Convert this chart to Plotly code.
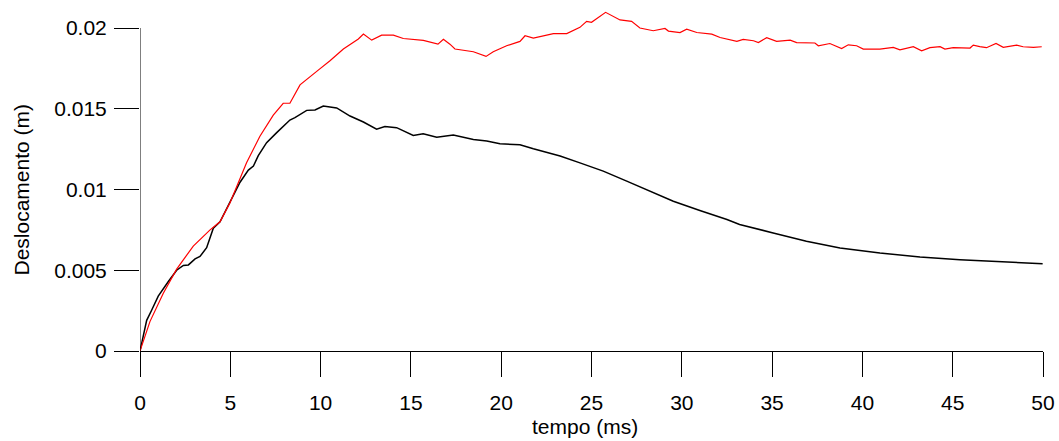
import plotly.graph_objects as go

# Black series (tempo ms, deslocamento m)
t_black = [0, 0.37, 0.65, 1.01, 1.57, 2.03, 2.4, 2.68, 3.05, 3.32, 3.69, 4.06, 4.43, 4.89,
           5.54, 6.0, 6.28, 6.55, 7.01, 7.57, 8.3, 8.58, 9.23, 9.69, 10.15, 10.89, 11.63,
           12.37, 13.1, 13.56, 14.21, 15.13, 15.68, 16.43, 17.16, 17.35, 18.46, 19.2, 19.93,
           21.04, 21.78, 23.26, 24.36, 25.65, 26.95, 28.05, 29.53, 31.0, 32.5, 33.2, 34.3,
           35.06, 36.9, 38.76, 40.97, 43.19, 45.4, 47.6, 49.98]
d_black = [0, 0.0019, 0.00254, 0.0034, 0.0043, 0.0050, 0.0053, 0.00533, 0.0057, 0.00585, 0.0064,
           0.0076, 0.0080, 0.0090, 0.01045, 0.0112, 0.01145, 0.0121, 0.0129, 0.01352, 0.0143,
           0.01445, 0.0149, 0.01492, 0.01517, 0.01505, 0.01455, 0.01418, 0.01373, 0.0139,
           0.01383, 0.01335, 0.01345, 0.01323, 0.01337, 0.01337, 0.0131, 0.0130, 0.01283,
           0.01277, 0.01252, 0.01207, 0.01165, 0.01114, 0.01052, 0.0100, 0.00927, 0.0087,
           0.00814, 0.00783, 0.0075, 0.00731, 0.00679, 0.00638, 0.00607, 0.00582, 0.00565,
           0.00555, 0.0054]

# Red series
t_red = [0, 0.55, 1.29, 2.03, 2.95, 3.88, 4.43, 4.98, 5.9, 6.64, 7.38, 7.93, 8.3, 8.86, 9.87,
         10.52, 11.26, 12.09, 12.37, 12.83, 13.38, 14.03, 14.58, 15.69, 16.5, 16.8, 17.16,
         17.44, 18.46, 19.16, 19.56, 20.3, 21.04, 21.32, 21.78, 22.89, 23.63, 24.36, 24.73,
         25.0, 25.78, 26.58, 27.22, 27.68, 28.42, 29.07, 29.26, 29.9, 30.27, 30.83, 31.66,
         32.12, 33.05, 33.4, 33.97, 34.24, 34.7, 35.25, 36.0, 36.36, 37.37, 37.56, 38.2,
         38.85, 39.22, 39.68, 40.05, 40.97, 41.71, 42.08, 42.82, 43.28, 43.74, 44.3, 44.57,
         45.03, 45.96, 46.14, 46.5, 46.87, 47.4, 47.8, 48.54, 48.9, 49.47, 49.93]
d_red = [0, 0.00182, 0.00358, 0.00507, 0.0065, 0.0075, 0.0080, 0.00917, 0.01165, 0.0133,
         0.0146, 0.01534, 0.01534, 0.01648, 0.01739, 0.01797, 0.0187, 0.01932, 0.01963,
         0.01925, 0.01956, 0.01956, 0.01935, 0.01923, 0.019, 0.0193, 0.019, 0.0187, 0.01853,
         0.01824, 0.01853, 0.0189, 0.01917, 0.01952, 0.01938, 0.01965, 0.01965, 0.02004,
         0.02041, 0.02035, 0.02097, 0.0205, 0.02041, 0.02, 0.01983, 0.01997, 0.01981,
         0.01972, 0.01993, 0.01972, 0.01962, 0.01941, 0.01917, 0.0193, 0.01921, 0.0191,
         0.0194, 0.01917, 0.01925, 0.0191, 0.01907, 0.0189, 0.01904, 0.01873, 0.01896,
         0.0189, 0.01869, 0.01869, 0.0188, 0.01865, 0.01884, 0.01859, 0.01878, 0.01884,
         0.01869, 0.01878, 0.01876, 0.01894, 0.01885, 0.01878, 0.01904, 0.0188, 0.01894,
         0.01884, 0.0188, 0.01884]

x_ticks = [0, 5, 10, 15, 20, 25, 30, 35, 40, 45, 50]
y_ticks = [0, 0.005, 0.01, 0.015, 0.02]
y_tick_text = ["0", "0.005", "0.01", "0.015", "0.02"]
x_title = "tempo (ms)"
y_title = "Deslocamento (m)"

W, H = 1059, 441
mt, mb, ml, mr = 5, 90, 140, 16
plot_h = H - mt - mb
y_top = 0.02 * plot_h / 323.0

font = dict(family="Liberation Sans, Arial, sans-serif", size=21, color="black")

fig = go.Figure()
fig.add_trace(go.Scatter(x=t_black, y=d_black, mode="lines",
                         line=dict(color="black", width=1.5), showlegend=False))
fig.add_trace(go.Scatter(x=t_red, y=d_red, mode="lines",
                         line=dict(color="#ff0000", width=1.2), showlegend=False))

# y axis line up to 0.02 only
fig.add_shape(type="line", xref="x", yref="y", x0=0, x1=0, y0=0, y1=y_ticks[-1],
              line=dict(color="black", width=1))

# axis titles as annotations for exact placement
fig.add_annotation(text=x_title, xref="paper", yref="paper", x=0.4928, y=0,
                   xanchor="center", yanchor="middle", yshift=-75,
                   showarrow=False, font=font)
fig.add_annotation(text=y_title, xref="paper", yref="y", x=0, y=y_ticks[-1] / 2,
                   xanchor="center", yanchor="middle", xshift=-119, textangle=-90,
                   showarrow=False, font=font)

fig.update_layout(
    width=W, height=H,
    margin=dict(l=ml, r=mr, t=mt, b=mb, autoexpand=False),
    paper_bgcolor="white", plot_bgcolor="white",
    font=font,
    xaxis=dict(range=[0, 50], tickvals=x_ticks, ticks="outside", ticklen=25,
               tickcolor="black", tickwidth=1, showline=True, linecolor="black",
               linewidth=1, showgrid=False, zeroline=False, automargin=False,
               tickfont=font, ticklabelstandoff=8),
    yaxis=dict(range=[0, y_top], tickvals=y_ticks, ticktext=y_tick_text,
               ticks="outside", ticklen=25, tickcolor="black", tickwidth=1,
               showline=False, showgrid=False, zeroline=False, automargin=False,
               tickfont=font, ticklabelstandoff=3),
)

fig.write_html("out.html", config={"displayModeBar": False},
               post_script="document.body.style.margin='0';document.body.style.overflow='hidden';")
